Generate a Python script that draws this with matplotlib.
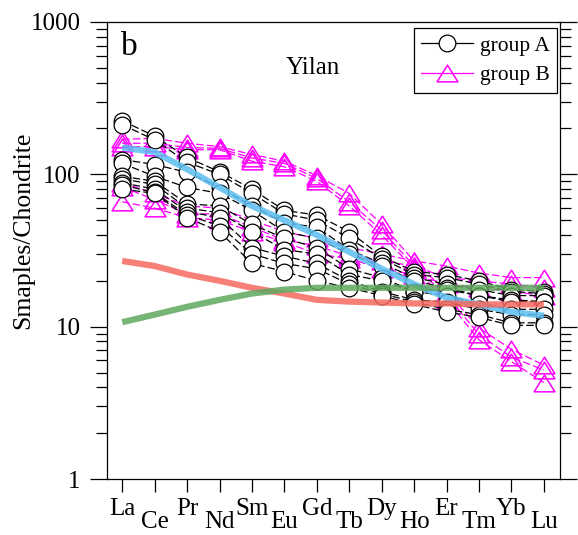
import matplotlib
matplotlib.use("Agg")
import matplotlib.pyplot as plt
from matplotlib.path import Path
from matplotlib.ticker import LogLocator, NullFormatter, FixedLocator

plt.rcParams['font.family'] = ['Liberation Serif', 'DejaVu Serif']

elements = ["La", "Ce", "Pr", "Nd", "Sm", "Eu", "Gd", "Tb", "Dy", "Ho", "Er", "Tm", "Yb", "Lu"]

# Chondrite-normalised REE, group A samples
group_a = [
    [225, 178, 129, 104, 80, 58, 54, 42, 29, 23, 22, 20, 17.5, 17],
    [212, 168, 120, 100, 75, 55, 50, 38, 28, 22, 21, 19, 17, 16.5],
    [125, 116, 103, 82, 62, 48, 45, 32, 26, 21, 19, 17.5, 16, 16],
    [118, 97, 82, 75, 58, 42, 38, 30, 25, 20, 18, 16, 15, 14.6],
    [97, 90, 64, 62, 47, 38, 33, 24, 21, 17, 17.5, 16, 14.6, 14.6],
    [93, 86, 60, 56, 42, 32, 30, 22, 20, 17, 16, 14, 13, 13],
    [88, 80, 57, 52, 33, 29, 26, 20, 17, 15, 14.5, 13, 12, 12],
    [85, 76, 54, 46, 30, 26, 24, 19, 16.5, 14.5, 13, 12, 10.6, 10.6],
    [80, 75, 52, 42, 26, 23, 20, 18, 16, 14, 12.5, 11.5, 10.2, 10.2],
]

# Chondrite-normalised REE, group B samples
group_b = [
    [170, 172, 160, 152, 135, 122, 98, 75, 47, 27, 17, 9.8, 7.1, 5.6],
    [160, 160, 150, 148, 128, 118, 94, 66, 43, 25, 16, 8.9, 6.3, 5.2],
    [152, 152, 145, 145, 122, 112, 90, 62, 40, 24, 15, 8.2, 5.9, 4.3],
    [88, 75, 62, 60, 50, 42, 38, 33, 30, 27, 25, 22.5, 21, 21],
    [83, 68, 55, 55, 45, 37, 34, 29, 27, 25, 21, 20, 19, 18],
    [66, 60, 52, 50, 42, 36, 30, 28, 24, 22, 19, 18, 17, 16],
]

# Reference patterns
ref_blue = [150, 140, 108, 82, 62, 50, 40, 31, 24, 19, 15.5, 14, 12.5, 11.8]
ref_red = [27, 25, 22, 20, 18, 16.5, 15, 14.6, 14.4, 14.2, 14.2, 14, 14, 14]
ref_green = [10.7, 12, 13.5, 15, 16.5, 17.5, 18, 18, 18, 18, 18, 18, 18, 18]

x = list(range(len(elements)))

fig = plt.figure(figsize=(5.78, 5.35), dpi=100)
ax = fig.add_axes([107 / 578, 1 - 479 / 535, (560 - 107) / 578, (479 - 22) / 535])

# wide open triangle marker
tri = Path([(0, 0.8), (-1, -0.8), (1, -0.8), (0, 0.8)],
           [Path.MOVETO, Path.LINETO, Path.LINETO, Path.CLOSEPOLY])

for i, row in enumerate(group_a):
    ax.plot(x, row, color='black', lw=0.9, ls=(0, (6, 2.5)), marker='o',
            ms=12, mfc='white', mec='black', mew=0.9, zorder=3,
            label='group A' if i == 0 else None)

for i, row in enumerate(group_b):
    ax.plot(x, row, color='#ff00ff', lw=0.9, ls=(0, (6, 2.5)), marker=tri,
            ms=15, mfc='none', mec='#ff00ff', mew=1.1, zorder=2,
            label='group B' if i == 0 else None)

ax.plot(x, ref_blue, color='#5bbef0', lw=4.5, alpha=0.85, zorder=5,
        solid_capstyle='butt', solid_joinstyle='round')
ax.plot(x, ref_red, color='#f56a60', lw=4.5, alpha=0.85, zorder=5,
        solid_capstyle='butt', solid_joinstyle='round')
ax.plot(x, ref_green, color='#5fa85f', lw=4.5, alpha=0.85, zorder=5,
        solid_capstyle='butt', solid_joinstyle='round')

ax.set_yscale('log')
ax.set_ylim(1, 1000)
ax.set_xlim(-0.47, 13.5)

ax.yaxis.set_major_locator(FixedLocator([1, 10, 100, 1000]))
ax.set_yticklabels(['1', '10', '100', '1000'])
ax.yaxis.set_minor_locator(LogLocator(base=10, subs=range(2, 10)))
ax.yaxis.set_minor_formatter(NullFormatter())
ax.tick_params(axis='y', which='major', direction='out', length=12, width=0.9,
               labelsize=18, pad=7, left=True, right=True)
ax.tick_params(axis='y', which='minor', direction='out', length=8, width=0.9,
               left=True, right=True)

ax.set_xticks(x)
ax.set_xticklabels(elements)
ax.tick_params(axis='x', which='major', direction='out', length=9, width=0.9,
               labelsize=18, top=False, pad=3)
for i, t in enumerate(ax.xaxis.get_major_ticks()):
    t.set_pad(5 if i % 2 == 0 else 14)

for s in ax.spines.values():
    s.set_linewidth(0.9)

ax.set_ylabel('Smaples/Chondrite', fontsize=18.5)
ax.yaxis.set_label_coords(-0.16, 0.545)

ax.text(0.03, 0.945, 'b', transform=ax.transAxes, fontsize=24, va='center', ha='left')
ax.text(0.455, 0.9, 'Yilan', transform=ax.transAxes, fontsize=18, va='center', ha='center')

leg = ax.legend(loc='upper right', bbox_to_anchor=(557 / 578, 1 - 28 / 535),
                bbox_transform=fig.transFigure, fontsize=15.5, frameon=True,
                fancybox=False, edgecolor='black', framealpha=1,
                handlelength=2.4, handletextpad=0.3, labelspacing=0.45,
                borderpad=0.35, borderaxespad=0)
leg.get_frame().set_linewidth(0.9)
for h in leg.get_lines():
    h.set_linestyle('-')
leg.set_zorder(10)

fig.savefig('out.png', dpi=100)
